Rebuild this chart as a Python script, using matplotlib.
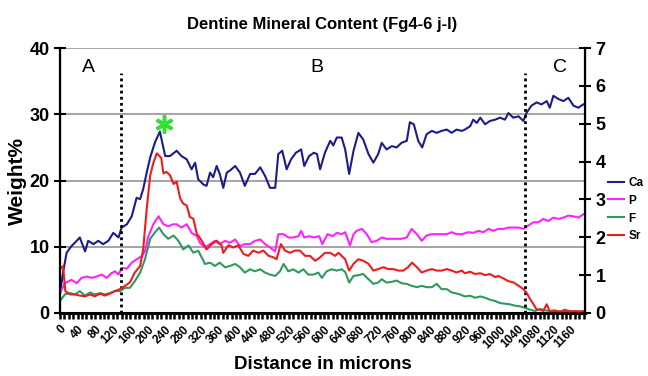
import matplotlib
matplotlib.use('Agg')
import matplotlib.pyplot as plt
from matplotlib.ticker import MultipleLocator

plt.rcParams['font.family'] = ['Liberation Sans', 'DejaVu Sans']

# Ca (weight%, left axis)
ca_x = [0, 8, 15, 26, 38, 45, 57, 64, 76, 87, 98, 110, 121, 133, 140, 152, 163, 174,
        182, 189, 197, 205, 216, 227, 239, 250, 265, 276, 288, 299, 307, 314, 326,
        333, 341, 348, 356, 363, 371, 379, 386, 398, 409, 420, 432, 443, 455, 466,
        477, 489, 496, 505, 515, 525, 536, 548, 555, 566, 577, 584, 591, 602, 614,
        621, 629, 640, 648, 657, 667, 678, 689, 701, 712, 723, 731, 742, 754, 765,
        776, 788, 795, 804, 814, 823, 833, 845, 856, 867, 879, 890, 901, 913, 920,
        932, 939, 947, 955, 966, 977, 989, 1000, 1011, 1019, 1030, 1042, 1053, 1060,
        1071, 1083, 1094, 1106, 1113, 1121, 1133, 1144, 1155, 1167, 1178, 1189]
ca = [3.0, 6.5, 9.1, 10.1, 10.9, 11.4, 9.3, 10.9, 10.4, 10.9, 10.4, 10.9, 12.1, 11.4,
      12.9, 13.4, 14.6, 17.4, 17.2, 18.7, 21.2, 23.5, 25.8, 27.4, 23.7, 23.7, 24.5,
      23.7, 23.2, 21.7, 22.7, 20.2, 19.4, 19.2, 21.2, 20.5, 22.2, 21.0, 18.9, 21.2,
      21.5, 22.2, 21.2, 19.2, 21.0, 21.0, 22.0, 20.7, 18.9, 18.9, 24.0, 24.5, 21.7,
      23.2, 24.2, 24.7, 22.2, 23.7, 24.2, 24.0, 21.7, 24.2, 26.0, 25.3, 26.5, 26.5,
      24.7, 21.0, 24.5, 27.2, 26.2, 24.0, 22.7, 24.0, 25.7, 24.7, 25.2, 25.0, 25.7,
      26.0, 28.8, 28.5, 26.0, 25.0, 27.0, 27.5, 27.2, 27.5, 27.7, 27.2, 27.7, 27.5,
      27.7, 28.2, 29.2, 28.7, 29.5, 28.5, 29.0, 29.2, 29.5, 29.2, 30.2, 29.5, 29.7,
      29.0, 30.2, 31.3, 31.8, 31.5, 32.0, 31.0, 32.8, 32.3, 32.0, 32.5, 31.3, 31.0, 31.5]

# P (weight%, left axis)
p_x = [0, 11, 26, 38, 49, 61, 72, 83, 95, 106, 117, 125, 133, 140, 152, 163, 174, 186,
       193, 201, 212, 224, 235, 246, 258, 265, 276, 288, 299, 311, 318, 329, 341, 352,
       363, 375, 386, 398, 409, 420, 432, 443, 455, 466, 477, 489, 496, 508, 519, 530,
       542, 548, 555, 566, 577, 589, 596, 608, 620, 629, 640, 648, 659, 667, 674, 686,
       697, 708, 720, 731, 742, 754, 765, 776, 788, 799, 811, 822, 833, 845, 856, 867,
       879, 890, 901, 913, 928, 939, 951, 962, 974, 985, 996, 1008, 1019, 1030, 1042,
       1053, 1064, 1076, 1087, 1098, 1110, 1121, 1133, 1144, 1155, 1167, 1178, 1189]
p = [3.0, 4.5, 5.0, 4.5, 5.3, 5.5, 5.3, 5.5, 5.8, 5.3, 6.0, 6.3, 5.8, 6.8, 6.7, 7.6, 8.1,
     8.6, 9.3, 11.6, 13.4, 14.6, 13.4, 13.1, 13.4, 13.4, 12.9, 13.4, 12.1, 11.6, 10.6,
     9.9, 10.4, 10.9, 10.4, 10.9, 10.6, 11.1, 10.1, 10.4, 10.4, 10.9, 11.1, 10.4, 9.9,
     9.3, 11.9, 11.9, 11.4, 11.4, 11.6, 12.4, 11.4, 11.6, 11.4, 11.6, 10.4, 11.9, 11.6,
     12.1, 11.9, 12.2, 10.2, 11.9, 12.4, 12.7, 11.9, 10.7, 10.9, 11.4, 11.2, 11.2, 11.2,
     11.2, 11.4, 12.7, 11.9, 10.9, 11.7, 11.9, 11.9, 11.9, 11.9, 12.2, 11.9, 11.9, 12.2,
     12.1, 12.4, 12.2, 12.7, 12.4, 12.7, 12.7, 12.9, 12.9, 12.9, 12.7, 13.2, 13.7, 13.7,
     14.2, 13.9, 14.4, 14.2, 14.4, 14.7, 14.6, 14.4, 14.9]

# F (weight%, left axis)
f_x = [0, 11, 23, 34, 45, 57, 68, 79, 91, 102, 113, 125, 136, 148, 159, 170, 182, 193,
       205, 216, 225, 235, 246, 258, 269, 280, 292, 303, 314, 326, 329, 341, 352, 363,
       375, 386, 398, 409, 420, 432, 443, 455, 466, 477, 489, 500, 508, 519, 530, 542,
       553, 564, 576, 587, 595, 606, 617, 629, 640, 648, 657, 667, 678, 689, 701, 712,
       723, 731, 742, 754, 765, 776, 788, 799, 811, 822, 833, 845, 856, 867, 879, 890,
       898, 909, 920, 932, 943, 955, 966, 977, 989, 1000, 1011, 1023, 1034, 1045, 1056,
       1068, 1079, 1091, 1102, 1113, 1124, 1136, 1147, 1158, 1170, 1181, 1189]
f = [1.8, 2.8, 3.0, 2.8, 3.3, 2.6, 3.1, 2.8, 3.0, 2.8, 3.0, 3.3, 3.3, 3.8, 3.8, 4.8, 6.1,
     8.1, 11.2, 12.2, 12.9, 11.9, 11.2, 11.7, 10.9, 9.6, 10.2, 9.1, 9.4, 7.9, 7.4, 7.6,
     7.1, 7.6, 6.9, 7.1, 7.4, 6.9, 6.1, 6.6, 6.3, 6.6, 6.1, 5.8, 5.6, 6.3, 7.4, 6.3, 6.6,
     6.1, 6.6, 5.8, 5.8, 6.1, 5.3, 6.3, 6.6, 6.4, 6.6, 6.2, 4.6, 5.6, 5.7, 5.9, 5.1, 4.4,
     4.6, 5.1, 4.6, 4.7, 4.9, 4.5, 4.4, 4.1, 3.9, 4.1, 3.9, 3.9, 4.4, 3.6, 3.6, 3.1, 3.0,
     2.8, 2.5, 2.6, 2.3, 2.5, 2.3, 2.0, 1.8, 1.5, 1.4, 1.3, 1.1, 1.0, 0.8, 0.5, 0.3, 0.6,
     0.4, 0.3, 0.4, 0.2, 0.5, 0.3, 0.2, 0.2, 0.1]

# Sr (weight%, right axis)
sr_x = [0, 7, 12, 23, 34, 45, 57, 68, 79, 91, 102, 113, 125, 136, 148, 159, 170, 182,
        189, 197, 205, 212, 220, 230, 235, 242, 250, 258, 265, 273, 280, 288, 295, 303,
        311, 314, 322, 333, 345, 356, 367, 371, 383, 394, 405, 417, 428, 439, 451, 462,
        474, 485, 492, 502, 511, 523, 534, 545, 557, 568, 580, 591, 602, 614, 625, 633,
        640, 648, 657, 667, 678, 689, 701, 712, 723, 735, 746, 757, 769, 780, 791, 800,
        811, 822, 833, 845, 856, 867, 879, 890, 901, 913, 920, 932, 943, 955, 966, 977,
        989, 996, 1008, 1019, 1030, 1042, 1053, 1060, 1068, 1076, 1083, 1091, 1098,
        1106, 1113, 1124, 1136, 1147, 1158, 1170, 1181, 1189]
sr = [1.16, 1.24, 0.58, 0.49, 0.49, 0.46, 0.44, 0.49, 0.44, 0.51, 0.46, 0.51, 0.58,
      0.63, 0.72, 0.81, 1.07, 1.24, 1.68, 2.75, 3.64, 3.96, 4.22, 4.10, 3.69, 3.73,
      3.64, 3.41, 3.47, 3.03, 2.89, 2.84, 2.54, 2.49, 2.08, 2.05, 1.91, 1.68, 1.82,
      1.91, 1.79, 1.59, 1.79, 1.73, 1.79, 1.56, 1.51, 1.65, 1.59, 1.65, 1.51, 1.47,
      1.42, 1.82, 1.65, 1.59, 1.65, 1.65, 1.51, 1.51, 1.38, 1.47, 1.59, 1.59, 1.51,
      1.59, 1.51, 1.42, 1.12, 1.30, 1.42, 1.38, 1.30, 1.12, 1.16, 1.21, 1.16, 1.16,
      1.12, 1.12, 1.21, 1.33, 1.21, 1.07, 1.12, 1.16, 1.12, 1.12, 1.16, 1.12, 1.07,
      1.12, 1.05, 1.09, 1.03, 1.05, 1.00, 1.03, 0.95, 0.98, 0.91, 0.84, 0.81, 0.72,
      0.63, 0.54, 0.37, 0.23, 0.09, 0.09, 0.05, 0.23, 0.04, 0.05, 0.04, 0.05, 0.04,
      0.05, 0.04, 0.05]

boundaries = [138, 1056]
regions = ['A', 'B', 'C']
region_x = [64, 584, 1136]

fig = plt.figure(figsize=(6.48, 3.76), dpi=100)
ax = fig.add_axes([0.0926, 0.1676, 0.8102, 0.7044])
ax2 = ax.twinx()

ax.set_xlim(0, 1193)
ax.set_ylim(0, 40)
ax2.set_ylim(0, 7)

for yv in [10, 20, 30, 40]:
    ax.axhline(yv, color='#8c8c8c', lw=1.1, zorder=0)

lw = 1.5
l_ca, = ax.plot(ca_x, ca, color='#1c1c8a', lw=lw, label='Ca')
l_p, = ax.plot(p_x, p, color='#ff22ff', lw=lw, label='P')
l_f, = ax.plot(f_x, f, color='#2f9a5e', lw=lw, label='F')
l_sr, = ax2.plot(sr_x, sr, color='#ee1c1c', lw=lw, label='Sr')

ax.vlines(boundaries, 0, 36.3, colors='black', linestyles=(0, (1, 1.2)), lw=2, zorder=5)
for lab, xv in zip(regions, region_x):
    ax.text(xv, 37, lab, fontsize=14, ha='center', va='center')

ax.plot([236], [28.5], marker=(6, 2, 0), color='#33e033', markersize=13, mew=2.5,
        linestyle='none', zorder=6)

ax.spines['top'].set_visible(False)
ax2.spines['top'].set_visible(False)
ax.spines['left'].set_linewidth(1.6)
ax.spines['bottom'].set_linewidth(2.2)
ax2.spines['right'].set_linewidth(1.6)

ax.xaxis.set_major_locator(MultipleLocator(40))
ax.xaxis.set_minor_locator(MultipleLocator(10))
ax.tick_params(axis='x', which='both', direction='out', length=4, width=1.8)
ax.set_xticks(range(0, 1161, 40))
ax.set_xticklabels([str(v) for v in range(0, 1161, 40)], rotation=45, ha='right',
                   va='top', rotation_mode='anchor', fontsize=8.5, fontweight='bold')

ax.set_yticks([0, 10, 20, 30, 40])
ax.tick_params(axis='y', direction='inout', length=8, width=1.5, labelsize=13)
ax2.set_yticks(range(0, 8))
ax2.tick_params(axis='y', direction='inout', length=8, width=1.5, labelsize=13)
for t in ax.get_yticklabels() + ax2.get_yticklabels():
    t.set_fontweight('bold')

ax.set_title('Dentine Mineral Content (Fg4-6 j-l)', fontsize=12, fontweight='bold', pad=14)
ax.set_ylabel('Weight%', fontsize=15, fontweight='bold', labelpad=2)
ax.set_xlabel('Distance in microns', fontsize=13.5, fontweight='bold', labelpad=4)

fig.legend(handles=[l_ca, l_p, l_f, l_sr], loc='upper left', bbox_to_anchor=(0.938, 0.53),
           frameon=False, handlelength=1.4, handletextpad=0.35, labelspacing=0.5,
           borderaxespad=0, borderpad=0, prop={'weight': 'bold', 'size': 8.5})

fig.savefig('out.png', dpi=100)
